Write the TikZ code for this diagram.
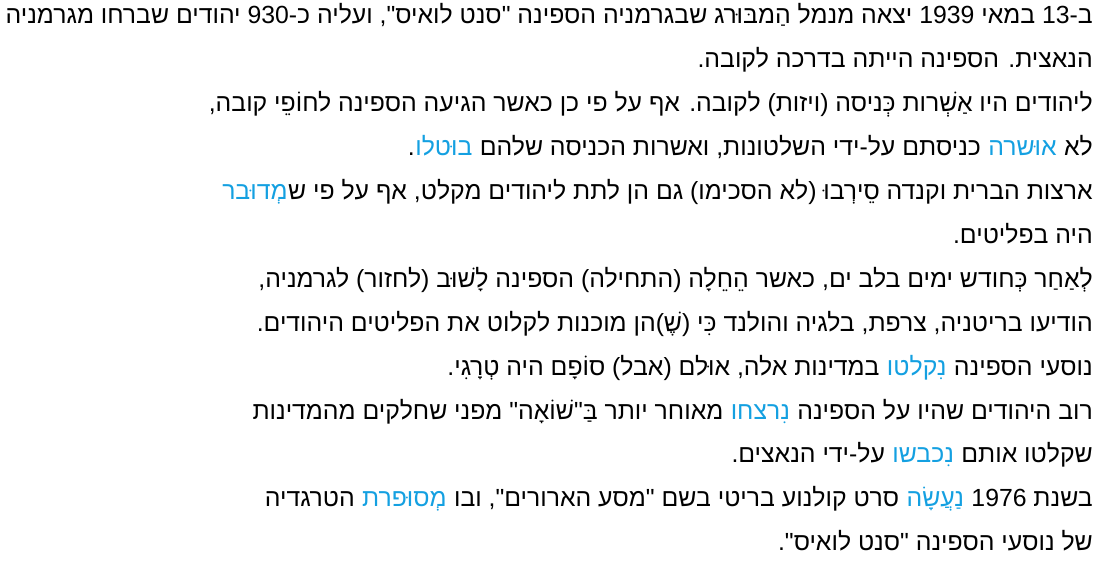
\documentclass[tikz,border=0pt]{standalone}
\usepackage{fontspec}
\TeXXeTstate=1
\newfontfamily\hebfont[Script=Hebrew]{Liberation Sans}
\definecolor{hlblue}{RGB}{20,160,225}
\newcommand{\LtR}[1]{\beginL#1\endL}
\newcommand{\R}[1]{\beginR#1\endR}
\begin{document}
\begin{tikzpicture}[x=0.75pt,y=-0.75pt,
  heb/.style={anchor=base east,inner sep=0pt,font=\hebfont\fontsize{18.6}{22}\selectfont},
  hl/.style={heb,text=hlblue}]
\useasboundingbox (0,0) rectangle (1098,563);
\def\bx{1093}
\node[heb] (l1) at (\bx,24) {\R{ב-\LtR{13} במאי \LtR{1939} יצאה מנמל הַמבּוּרג שבגרמניה הספינה "סנט לואיס", ועליה כ-\LtR{930} יהודים שברחו מגרמניה}};
\node[heb] (l2) at (\bx,68) {\R{הנאצית. הספינה הייתה בדרכה לקובה.}};
\node[heb] (l3) at (\bx,112) {\R{ליהודים היו אַשְׁרות כְּניסה (ויזות) לקובה. אף על פי כן כאשר הגיעה הספינה לחוֹפֵי קובה,}};
% line 4
\node[heb] (l4a) at (\bx,156) {\R{לא\ }};
\node[hl] (l4b) at (l4a.base west) {\R{אוּשרה}};
\node[heb] (l4c) at (l4b.base west) {\R{\ כניסתם על-ידי השלטונות, ואשרות הכניסה שלהם\ }};
\node[hl] (l4d) at (l4c.base west) {\R{בוּטלו}};
\node[heb] (l4e) at (l4d.base west) {\R{.}};
% line 5
\node[heb] (l5a) at (\bx,199) {\R{ארצות הברית וקנדה סֵירְבוּ (לא הסכימו) גם הן לתת ליהודים מקלט, אף על פי ש}};
\node[hl] (l5b) at (l5a.base west) {\R{מְדוּבר}};
\node[heb] (l6) at (\bx,243) {\R{היה בפליטים.}};
\node[heb] (l7) at (\bx,287) {\R{לְאַחַר כְּחודש ימים בלב ים, כאשר הֵחֵלָה (התחילה) הספינה לָשׁוּב (לחזור) לגרמניה,}};
\node[heb] (l8) at (\bx,331) {\R{הודיעו בריטניה, צרפת, בלגיה והולנד כִּי (שֶׁ)הן מוכנות לקלוט את הפליטים היהודים.}};
% line 9
\node[heb] (l9a) at (\bx,375) {\R{נוסעי הספינה\ }};
\node[hl] (l9b) at (l9a.base west) {\R{נִקלטו}};
\node[heb] (l9c) at (l9b.base west) {\R{\ במדינות אלה, אוּלם (אבל) סוֹפָם היה טְרָגִי.}};
% line 10
\node[heb] (l10a) at (\bx,419) {\R{רוב היהודים שהיו על הספינה\ }};
\node[hl] (l10b) at (l10a.base west) {\R{נִרצחו}};
\node[heb] (l10c) at (l10b.base west) {\R{\ מאוחר יותר בַּ"שׁוֹאָה" מפני שחלקים מהמדינות}};
% line 11
\node[heb] (l11a) at (\bx,462) {\R{שקלטו אותם\ }};
\node[hl] (l11b) at (l11a.base west) {\R{נִכבשו}};
\node[heb] (l11c) at (l11b.base west) {\R{\ על-ידי הנאצים.}};
% line 12
\node[heb] (l12a) at (\bx,506) {\R{בשנת \LtR{1976}\ }};
\node[hl] (l12b) at (l12a.base west) {\R{נַעֲשָׂה}};
\node[heb] (l12c) at (l12b.base west) {\R{\ סרט קולנוע בריטי בשם "מסע הארורים", ובו\ }};
\node[hl] (l12d) at (l12c.base west) {\R{מְסוּפרת}};
\node[heb] (l12e) at (l12d.base west) {\R{\ הטרגדיה}};
\node[heb] (l13) at (\bx,550) {\R{של נוסעי הספינה "סנט לואיס".}};
\end{tikzpicture}
\end{document}
